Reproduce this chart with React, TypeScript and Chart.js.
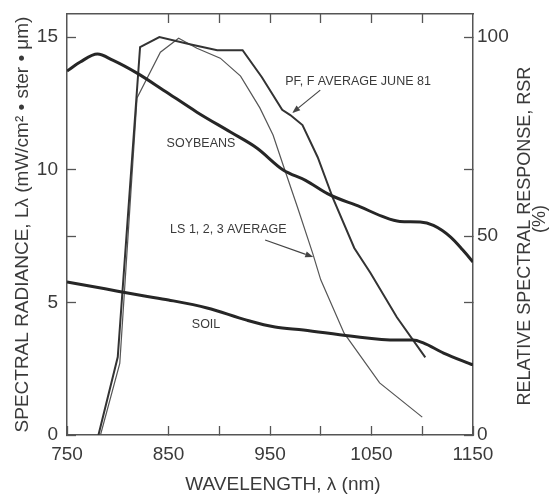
import React, { useEffect, useRef } from 'react';
import { Chart, registerables } from 'chart.js';

Chart.register(...registerables);

// ---- Data ----
const soybeanWl = [750, 763, 780, 795, 819, 845, 878, 911, 937, 963, 985, 1009, 1039, 1060, 1078, 1098, 1111, 1128, 1140, 1150];
const soybeanL = [13.72, 14.06, 14.36, 14.13, 13.64, 13.0, 12.17, 11.42, 10.82, 9.99, 9.6, 9.05, 8.6, 8.25, 8.05, 8.03, 7.9, 7.46, 6.97, 6.52];

const soilWl = [750, 775, 800, 825, 850, 888, 927, 955, 983, 1029, 1075, 1091, 1101, 1121, 1150];
const soilL = [5.77, 5.6, 5.42, 5.25, 5.09, 4.79, 4.33, 4.07, 3.96, 3.73, 3.58, 3.58, 3.47, 3.09, 2.64];

const pfWl = [781, 800, 822, 841, 871, 898, 923, 942, 962, 970, 982, 997, 1012, 1033, 1049, 1075, 1103];
const pfRsr = [0, 19.6, 97.5, 100, 98.2, 96.7, 96.7, 89.9, 81.7, 80.4, 77.9, 69.8, 59.5, 47, 40.7, 29.6, 19.5];

const lsWl = [783, 802, 819, 842, 860, 878, 901, 921, 940, 953, 963, 977, 992, 1000, 1023, 1058, 1100];
const lsRsr = [0, 18, 84.7, 96.2, 99.7, 97.2, 94.7, 90.2, 82.2, 75.4, 67.8, 57.3, 45.7, 39, 25.6, 13.1, 4.5];

// ---- Tick values ----
const xTicks = [750, 850, 900, 950, 1000, 1050, 1100, 1150];
const xLabels = [750, 850, 950, 1050, 1150];
const x2Ticks = [850, 900, 950, 1000, 1050, 1100];
const yTicks = [0, 5, 7.5, 10, 15];
const yLabels = [0, 5, 10, 15];
const y2Ticks = [0, 33.3, 50, 66.7, 100];
const y2Labels = [0, 50, 100];

// ---- Titles ----
const xTitle = 'WAVELENGTH, λ (nm)';
const yTitle = 'SPECTRAL RADIANCE, Lλ (mW/cm² • ster • μm)';
const y2Title = 'RELATIVE SPECTRAL RESPONSE, RSR';
const y2Unit = '(%)';

// ---- Annotations (data coordinates) ----
const noteTexts = ['SOYBEANS', 'SOIL', 'LS 1, 2, 3 AVERAGE', 'PF, F AVERAGE JUNE 81'];
const noteWl = [882, 887, 851.6, 965];
const noteL = [11.0, 4.15, 7.73, 13.34];
const noteAlign = ['center', 'center', 'left', 'left'];

const arrowFromWl = [999.5, 945.2];
const arrowFromL = [13.0, 7.35];
const arrowToWl = [971.9, 992.6];
const arrowToL = [12.14, 6.71];

const FONT = '"Liberation Sans", Arial, Helvetica, sans-serif';
const TEXT = '#3a3a3a';
const AXIS = '#555555';

const pairs = (xs: number[], ys: number[]) => xs.map((x, i) => ({ x, y: ys[i] }));

const notesPlugin = {
  id: 'notes',
  afterDraw(chart: any) {
    const { ctx, chartArea } = chart;
    const x = chart.scales.x;
    const y = chart.scales.y;
    const y2 = chart.scales.y2;
    ctx.save();
    ctx.fillStyle = TEXT;
    ctx.font = `12.5px ${FONT}`;
    ctx.textBaseline = 'middle';
    noteTexts.forEach((t, i) => {
      ctx.textAlign = noteAlign[i];
      ctx.fillText(t, x.getPixelForValue(noteWl[i]), y.getPixelForValue(noteL[i]));
    });
    ctx.strokeStyle = '#444';
    ctx.fillStyle = '#444';
    ctx.lineWidth = 1.2;
    arrowFromWl.forEach((_, i) => {
      const x1 = x.getPixelForValue(arrowFromWl[i]);
      const y1 = y.getPixelForValue(arrowFromL[i]);
      const x2 = x.getPixelForValue(arrowToWl[i]);
      const yy2 = y.getPixelForValue(arrowToL[i]);
      const ang = Math.atan2(yy2 - y1, x2 - x1);
      const hl = 8;
      const hw = 3;
      const bx = x2 - hl * Math.cos(ang);
      const by = yy2 - hl * Math.sin(ang);
      ctx.beginPath();
      ctx.moveTo(x1, y1);
      ctx.lineTo(bx, by);
      ctx.stroke();
      ctx.beginPath();
      ctx.moveTo(x2, yy2);
      ctx.lineTo(bx + hw * Math.sin(ang), by - hw * Math.cos(ang));
      ctx.lineTo(bx - hw * Math.sin(ang), by + hw * Math.cos(ang));
      ctx.closePath();
      ctx.fill();
    });
    // x axis title
    ctx.fillStyle = TEXT;
    ctx.font = `19px ${FONT}`;
    ctx.textAlign = 'center';
    ctx.textBaseline = 'middle';
    ctx.fillText(xTitle, (chartArea.left + chartArea.right) / 2 + 13, x.bottom - 9);
    // right axis title, reading bottom-to-top
    ctx.font = `18px ${FONT}`;
    ctx.translate(chartArea.right + 52, y2.getPixelForValue(50));
    ctx.rotate(-Math.PI / 2);
    ctx.fillText(y2Title, 0, 0);
    ctx.fillText(y2Unit, 17, 15);
    ctx.restore();
  },
};

const tickFont = { family: FONT, size: 19, lineHeight: 1 };
const gridOpts = {
  drawOnChartArea: false,
  drawTicks: true,
  tickLength: -9,
  tickColor: AXIS,
  tickWidth: 1.3,
};
const borderOpts = { display: true, color: AXIS, width: 1.5 };

const noPad = (s: any) => {
  s.paddingTop = 0;
  s.paddingBottom = 0;
  s.paddingLeft = 0;
  s.paddingRight = 0;
};

export default function App() {
  const ref = useRef<HTMLCanvasElement | null>(null);

  useEffect(() => {
    if (!ref.current) return;
    const chart = new Chart(ref.current, {
      type: 'line',
      data: {
        datasets: [
          {
            label: 'SOYBEANS',
            data: pairs(soybeanWl, soybeanL),
            borderColor: '#262626',
            borderWidth: 3,
            pointRadius: 0,
            cubicInterpolationMode: 'monotone',
            yAxisID: 'y',
          },
          {
            label: 'SOIL',
            data: pairs(soilWl, soilL),
            borderColor: '#262626',
            borderWidth: 3,
            pointRadius: 0,
            cubicInterpolationMode: 'monotone',
            yAxisID: 'y',
          },
          {
            label: 'PF, F AVERAGE JUNE 81',
            data: pairs(pfWl, pfRsr),
            borderColor: '#333333',
            borderWidth: 2,
            pointRadius: 0,
            tension: 0,
            yAxisID: 'y2',
          },
          {
            label: 'LS 1, 2, 3 AVERAGE',
            data: pairs(lsWl, lsRsr),
            borderColor: '#555555',
            borderWidth: 1.2,
            pointRadius: 0,
            tension: 0,
            yAxisID: 'y2',
          },
        ],
      } as any,
      options: {
        animation: false,
        responsive: false,
        layout: { padding: 0 },
        plugins: {
          legend: { display: false },
          tooltip: { enabled: false },
        },
        scales: {
          x: {
            type: 'linear',
            position: 'bottom',
            min: 750,
            max: 1150,
            afterBuildTicks: (s: any) => { s.ticks = xTicks.map((v) => ({ value: v })); },
            afterFit: (s: any) => { s.height = 59; noPad(s); },
            ticks: {
              autoSkip: false,
              maxRotation: 0,
              padding: 19,
              color: TEXT,
              font: tickFont,
              callback: (v: any) => (xLabels.includes(Number(v)) ? String(v) : ''),
            },
            grid: gridOpts,
            border: borderOpts,
            title: { display: false },
          },
          x2: {
            type: 'linear',
            position: 'top',
            min: 750,
            max: 1150,
            afterBuildTicks: (s: any) => { s.ticks = x2Ticks.map((v) => ({ value: v })); },
            afterFit: (s: any) => { s.height = 14; noPad(s); },
            ticks: { autoSkip: false, maxRotation: 0, padding: 0, callback: () => '' },
            grid: gridOpts,
            border: borderOpts,
          },
          y: {
            type: 'linear',
            position: 'left',
            min: 0,
            max: 15.87,
            afterBuildTicks: (s: any) => { s.ticks = yTicks.map((v) => ({ value: v })); },
            afterFit: (s: any) => { s.width = 67; noPad(s); },
            ticks: {
              autoSkip: false,
              padding: 18,
              color: TEXT,
              font: tickFont,
              callback: (v: any) => (yLabels.includes(Number(v)) ? String(v) : ''),
            },
            grid: gridOpts,
            border: borderOpts,
            title: {
              display: true,
              text: yTitle,
              color: TEXT,
              font: { family: FONT, size: 19, lineHeight: 1 },
              padding: { top: 13.5, bottom: 0 },
            },
          },
          y2: {
            type: 'linear',
            position: 'right',
            min: 0,
            max: 105.8,
            afterBuildTicks: (s: any) => { s.ticks = y2Ticks.map((v) => ({ value: v })); },
            afterFit: (s: any) => { s.width = 81; noPad(s); },
            ticks: {
              autoSkip: false,
              padding: 13,
              color: TEXT,
              font: tickFont,
              callback: (v: any) => (y2Labels.includes(Number(v)) ? String(v) : ''),
            },
            grid: gridOpts,
            border: borderOpts,
          },
        },
      } as any,
      plugins: [notesPlugin],
    });
    return () => chart.destroy();
  }, []);

  return (
    <div style={{ position: 'fixed', left: 0, top: 0, width: 554, height: 494, background: '#ffffff' }}>
      <canvas ref={ref} width={554} height={494} style={{ display: 'block' }} />
    </div>
  );
}
